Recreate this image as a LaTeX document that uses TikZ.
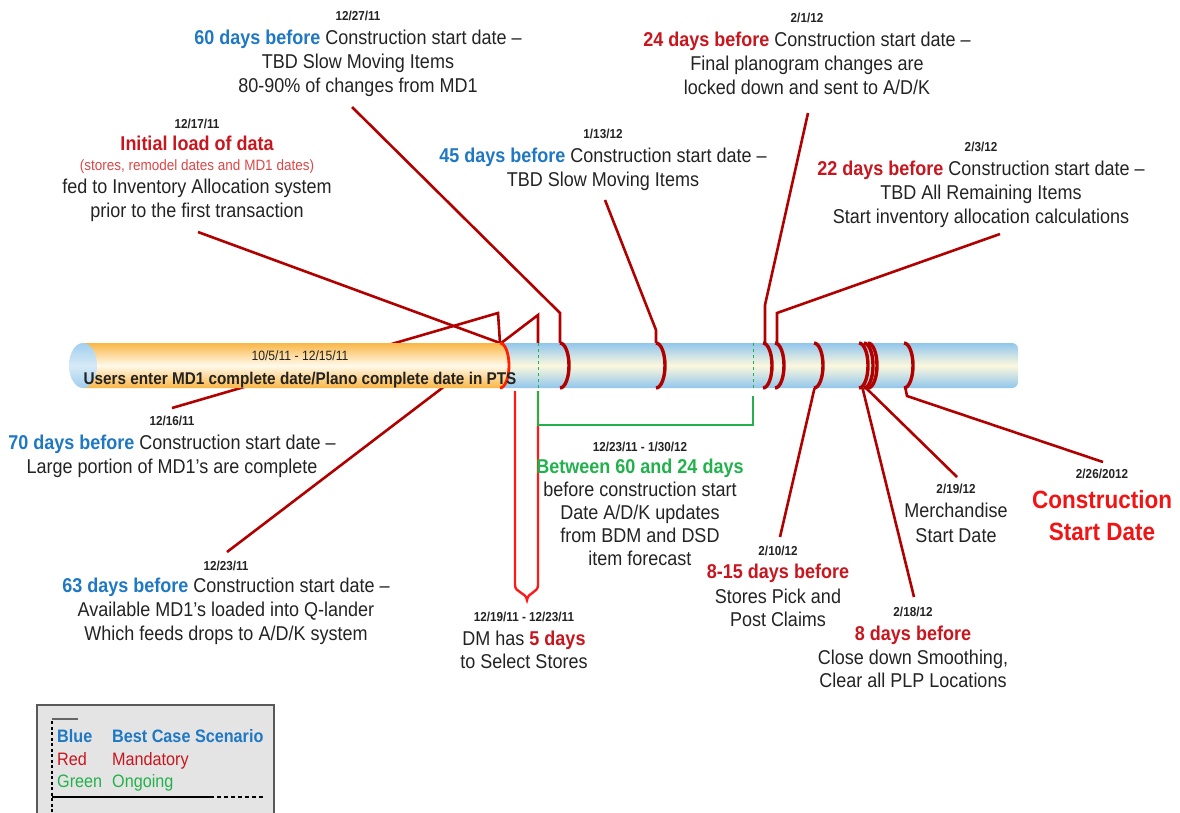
\documentclass[tikz,border=0pt]{standalone}
\usepackage{fontspec}
\setmainfont[FakeStretch=0.9]{Liberation Sans}

\definecolor{txt}{RGB}{35,35,35}
\definecolor{bluetxt}{RGB}{31,120,196}
\definecolor{redtxt}{RGB}{200,22,30}
\definecolor{lightred}{RGB}{222,70,70}
\definecolor{grntxt}{RGB}{34,177,76}
\definecolor{bigred}{RGB}{240,20,20}
\definecolor{lead}{RGB}{176,0,0}
\definecolor{brk}{RGB}{255,25,25}
\definecolor{tubeblue}{RGB}{145,198,236}
\definecolor{tubecream}{RGB}{252,248,222}
\definecolor{tubeorange}{RGB}{250,182,70}
\definecolor{orangecream}{RGB}{255,250,235}
\definecolor{capblue}{RGB}{214,234,247}
\definecolor{legbg}{RGB}{228,228,228}

\newcommand{\fs}[2]{\fontsize{#1}{#2}\selectfont}
\newcommand{\dte}[1]{{\fs{13}{24}\bfseries #1}}

\tikzset{
  note/.style={align=center, anchor=north, inner sep=0pt, outer sep=0pt, font=\fs{20}{24}, text=txt},
  legtxt/.style={anchor=base west, inner sep=0pt, font=\fs{18}{22}},
  leader/.style={draw=lead, line width=2.6pt},
  ring/.style={draw=lead, line width=3.4pt},
  bracketline/.style={draw=brk, line width=2.4pt},
  ongoing/.style={draw=grntxt, line width=2.6pt},
}

\begin{document}
\begin{tikzpicture}[x=1pt, y=-1pt]
\useasboundingbox (0,0) rectangle (1180,812);

% points on the tube
\coordinate (r0) at (500,343);
\coordinate (r23) at (538,343);
\coordinate (r27) at (560,343);
\coordinate (r13) at (656,343);
\coordinate (r01) at (765,343);
\coordinate (r03) at (777,343);
\coordinate (r10) at (815,386);
\coordinate (r18) at (862,386);
\coordinate (r19) at (866,388);
\coordinate (r26) at (905,386);

% bends and free ends of the leaders
\coordinate (b16) at (498,313);
\coordinate (b23) at (538,315);
\coordinate (b27) at (560,313);
\coordinate (b13) at (656,330);
\coordinate (b01) at (765,305);
\coordinate (b03) at (777,313);
\coordinate (b26) at (907,396);
\coordinate (t27) at (352,107);
\coordinate (t17) at (198,232);
\coordinate (t13) at (605,200);
\coordinate (t01) at (808,113);
\coordinate (t03) at (1000,234);
\coordinate (t16) at (172,408);
\coordinate (t23) at (227,552);
\coordinate (t10) at (780,537);
\coordinate (t18) at (914,597);
\coordinate (t19) at (957,477);
\coordinate (t26) at (1103,462);

\draw[leader] (t17) -- (r0);
\draw[leader] (t16) -- (b16) -- (r0);
\draw[leader] (t23) -- (b23) -- (r23);
\draw[leader] (t27) -- (b27) -- (r27);
\draw[leader] (t13) -- (b13) -- (r13);
\draw[leader] (t01) -- (b01) -- (r01);
\draw[leader] (t03) -- (b03) -- (r03);
\draw[leader] (r10) -- (t10);
\draw[leader] (r18) -- (t18);
\draw[leader] (r19) -- (t19);
\draw[leader] (r26) -- (b26) -- (t26);

% the tube
\shade[top color=tubeblue, bottom color=tubeblue, middle color=tubecream, rounded corners=6pt]
  (490,343) rectangle (1018,388);
\shade[top color=tubeorange, bottom color=tubeorange, middle color=orangecream]
  (83,343) -- (500,343) arc[start angle=90, end angle=-90, x radius=9pt, y radius=22.5pt] -- (83,388) -- cycle;
\shade[top color=tubeblue!85, bottom color=tubeblue!85, middle color=capblue]
  (83,365.5) ellipse[x radius=14pt, y radius=22.5pt];

\draw[draw=red!75!orange, line width=2.8pt] (500,343) arc[start angle=90, end angle=-90, x radius=9pt, y radius=22.5pt];
\foreach \rx in {560,656,763,775,814,859,864,868,904}
  \draw[ring] (\rx,343) arc[start angle=90, end angle=-90, x radius=9pt, y radius=22.5pt];

\draw[grntxt, line width=1pt, dash pattern=on 3pt off 3pt] (538,343) -- (538,388);
\draw[grntxt, line width=1pt, dash pattern=on 3pt off 3pt] (753,343) -- (753,388);

% 12/19/11 - 12/23/11 bracket
\coordinate (dmL) at (515,391);
\coordinate (dmR) at (538,391);
\coordinate (dmTip) at (527,600);
\draw[bracketline] (dmL) -- (515,585) .. controls (515,593) and (526,592) .. (dmTip)
  .. controls (528,592) and (538,593) .. (538,585) -- (dmR);
\coordinate (gnL) at (538,391);
\coordinate (gnR) at (753,396);
\draw[ongoing] (gnL) -- (538,425) -- (753,425) -- (gnR);

\node[note, font=\fs{17}{24}] (pts) at (300,350.5)
  {{\fs{13.5}{24}10/5/11 - 12/15/11}\\ \bfseries Users enter MD1 complete date/Plano complete date in PTS};

\node[note] (n27) at (358,11.5) {\dte{12/27/11}\\
  \textcolor{bluetxt}{\bfseries 60 days before} Construction start date –\\
  TBD Slow Moving Items\\ 80-90\% of changes from MD1};
\node[note] (n17) at (197,119.5) {\dte{12/17/11}\\[-2pt]
  \textcolor{redtxt}{\bfseries Initial load of data}\\[-4pt]
  {\fs{15}{24}\color{lightred}(stores, remodel dates and MD1 dates)}\\[-1pt]
  fed to Inventory Allocation system\\ prior to the first transaction};
\node[note] (n13) at (603,129.5) {\dte{1/13/12}\\
  \textcolor{bluetxt}{\bfseries 45 days before} Construction start date –\\
  TBD Slow Moving Items};
\node[note] (n01) at (807,13.5) {\dte{2/1/12}\\
  \textcolor{redtxt}{\bfseries 24 days before} Construction start date –\\
  Final planogram changes are\\ locked down and sent to A/D/K};
\node[note] (n03) at (981,142.5) {\dte{2/3/12}\\
  \textcolor{redtxt}{\bfseries 22 days before} Construction start date –\\
  TBD All Remaining Items\\ Start inventory allocation calculations};
\node[note] (n16) at (172,416.5) {\dte{12/16/11}\\
  \textcolor{bluetxt}{\bfseries 70 days before} Construction start date –\\
  Large portion of MD1's are complete};
\node[note] (n23) at (226,561.5) {\dte{12/23/11}\\[-2pt]
  \textcolor{bluetxt}{\bfseries 63 days before} Construction start date –\\
  Available MD1's loaded into Q-lander\\ Which feeds drops to A/D/K system};
\node[note] (n19b) at (524,612.5) {\dte{12/19/11 - 12/23/11}\\
  DM has \textcolor{redtxt}{\bfseries 5 days}\\[-1pt] to Select Stores};
\node[note, font=\fs{20}{23}] (n30) at (640,442.5) {\dte{12/23/11 - 1/30/12}\\[-1pt]
  \textcolor{grntxt}{\bfseries Between 60 and 24 days}\\
  before construction start\\ Date A/D/K updates\\ from BDM and DSD\\ item forecast};
\node[note] (n10) at (778,546.5) {\dte{2/10/12}\\[-1pt]
  \textcolor{redtxt}{\bfseries 8-15 days before}\\[1pt]
  Stores Pick and\\[-1pt] Post Claims};
\node[note] (n18) at (913,607.5) {\dte{2/18/12}\\
  \textcolor{redtxt}{\bfseries 8 days before}\\
  Close down Smoothing,\\[-1pt] Clear all PLP Locations};
\node[note] (n19) at (956,484.5) {\dte{2/19/12}\\
  Merchandise\\[1pt] Start Date};
\node[note, font=\fs{25}{32}\bfseries, text=bigred] (n26) at (1102,469.5)
  {{\fs{13}{24}\color{txt}2/26/2012}\\[-2pt] Construction\\ Start Date};

% legend
\filldraw[fill=legbg, draw=black!65, line width=1.5pt] (37,705) rectangle (274,830);
\draw[black!60, line width=1.5pt] (52,719) -- (78,719);
\draw[black, line width=1.2pt, dash pattern=on 3pt off 2.5pt] (52,721) -- (52,815);
\draw[black, line width=1.2pt] (52,797) -- (210,797);
\draw[black, line width=1.2pt, dash pattern=on 4pt off 3pt] (210,797) -- (264,797);
\node[legtxt, text=bluetxt] (lb1) at (57,742) {\bfseries Blue};
\node[legtxt, text=bluetxt] (lb2) at (112,742) {\bfseries Best Case Scenario};
\node[legtxt, text=redtxt] (lr1) at (57,765) {Red};
\node[legtxt, text=redtxt] (lr2) at (112,765) {Mandatory};
\node[legtxt, text=grntxt] (lg1) at (57,787) {Green};
\node[legtxt, text=grntxt] (lg2) at (112,787) {Ongoing};
\end{tikzpicture}
\end{document}
